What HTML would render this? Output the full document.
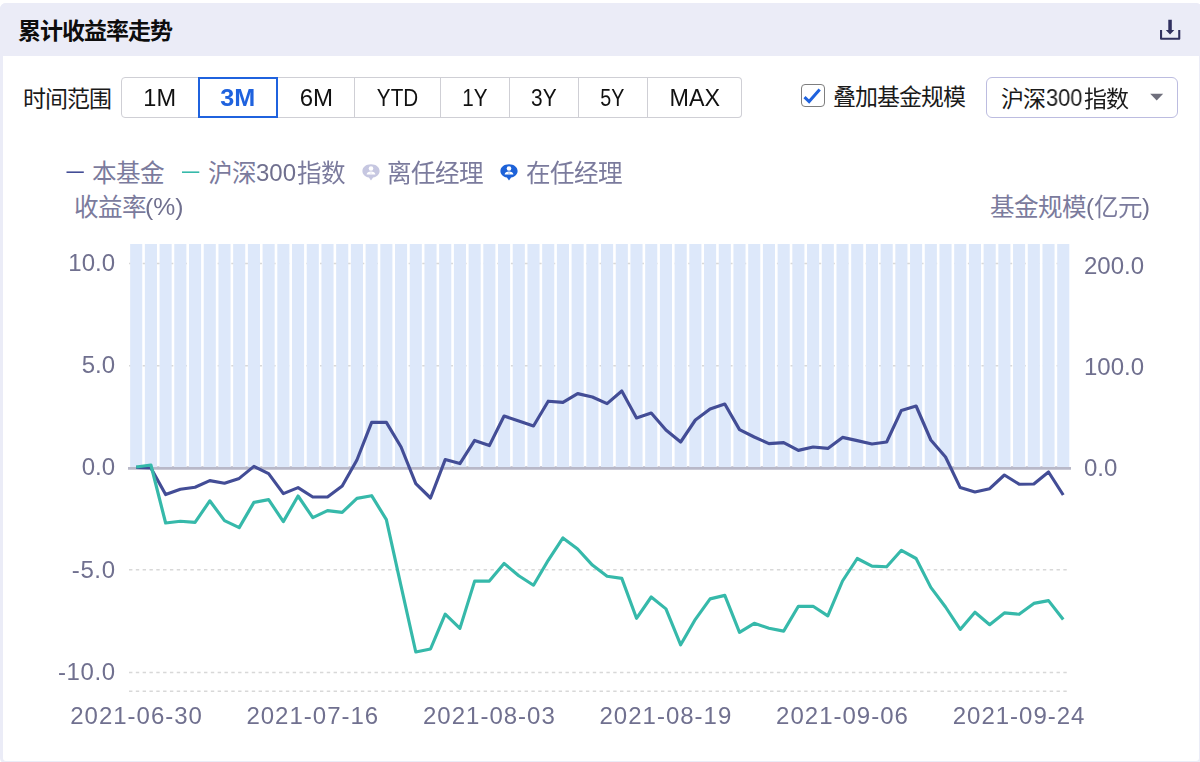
<!DOCTYPE html>
<html lang="zh-CN"><head><meta charset="utf-8"><title>Cumulative return trend</title>
<style>
html,body{margin:0;padding:0;background:#fff}
body{width:1200px;height:762px;overflow:hidden;position:relative;font-family:"Liberation Sans",sans-serif;color:#111}
.abs,.cj,.chart{position:absolute;display:block;overflow:visible}
.chart{left:0;top:0}
.card{position:absolute;left:-0.5px;top:3.2px;width:1202.5px;height:760.5px;box-sizing:border-box;border:3px solid #ebecf7;border-radius:6px;background:#fff}
.hd{position:absolute;left:-0.5px;top:3.2px;width:1202.5px;height:52.8px;background:#ebecf7;border-radius:6px 6px 0 0}
.tabs{position:absolute;left:121.300px;top:76.500px;height:41px;display:flex}
.tab{box-sizing:border-box;height:41px;border:1.500px solid #cfcfd5;border-left-width:0;font-size:24px;line-height:40.5px;text-align:center;color:#111;background:#fff}
.tab:first-child{border-left-width:1.500px;border-radius:4px 0 0 4px}
.tab:last-child{border-radius:0 4px 4px 0}
.tab.on{border:2px solid #1f62de;line-height:38.3px;margin-left:-1.500px;color:#1f62de;font-weight:bold;position:relative;z-index:1}
.chk{position:absolute;left:801.400px;top:83.500px;width:23.800px;height:23.800px;box-sizing:border-box;border:1.800px solid #7e7e7e;border-radius:4px;background:#fff}
.sel{position:absolute;left:986px;top:76.500px;width:192.400px;height:41px;box-sizing:border-box;border:1.500px solid #bcbce0;border-radius:6px;background:#fff}
.lat{position:absolute;white-space:nowrap;line-height:1;will-change:transform;transform-origin:0 50%}
.chart,.tabs{will-change:transform}
.tab span{display:inline-block;transform-origin:50% 50%}
.cj text{font-family:"Liberation Sans","Noto Sans CJK SC",sans-serif;font-size:1000px}
</style></head><body>
<div class="card"></div>
<header class="hd"></header>
<svg class="cj" role="img" aria-label="累计收益率走势" style="left:15.7px;top:15.25px" width="159" height="31.6" viewBox="-86.96 -1036.96 6913.04 1373.91" fill="#0d0d0d"><text x="0" y="0" font-weight="bold" letter-spacing="-43.48">累计收益率走势</text></svg>
<svg class="abs" style="left:1158px;top:18px" width="24" height="24" viewBox="1158 18 24 24" role="img" aria-label="download"><path fill="none" stroke="#30305f" stroke-width="2.100" stroke-linejoin="round" d="M1161.050 29.950V38.800H1179.250V29.950"/><path fill="#30305f" d="M1168.300 19.800H1171.800V29.900H1174.300L1170.050 34.400L1165.800 29.900H1168.300Z"/></svg>
<svg class="cj" role="img" aria-label="时间范围" style="left:20.7px;top:83.15px" width="93" height="31.6" viewBox="-86.96 -1036.96 4043.48 1373.91" fill="#1a1a1a"><text x="0" y="0" letter-spacing="-43.48">时间范围</text></svg>
<nav class="tabs">
<div class="tab" style="width:78.5px"><span style="transform:translateX(-1px) scaleX(0.98)">1M</span></div>
<div class="tab on" style="width:80px"><span style="transform:translateX(0px) scaleX(1.05)">3M</span></div>
<div class="tab" style="width:77px"><span style="transform:translateX(0.3px) scaleX(1)">6M</span></div>
<div class="tab" style="width:86px"><span style="transform:translateX(-0.5px) scaleX(0.86)">YTD</span></div>
<div class="tab" style="width:69px"><span style="transform:translateX(0.3px) scaleX(0.86)">1Y</span></div>
<div class="tab" style="width:69px"><span style="transform:translateX(0.2px) scaleX(0.87)">3Y</span></div>
<div class="tab" style="width:69px"><span style="transform:translateX(-0.4px) scaleX(0.82)">5Y</span></div>
<div class="tab" style="width:94px"><span style="transform:translateX(0.8px) scaleX(0.97)">MAX</span></div>
</nav>
<div class="chk"><svg class="abs" style="left:0;top:0" width="20.200" height="20.200" viewBox="803.200 85.300 20.200 20.200" fill="none" stroke="#1f62de" stroke-width="3" role="img" aria-label="checked"><path d="M805.700 97.500L810.300 101.900L820.900 89.700"/></svg></div>
<svg class="cj" role="img" aria-label="叠加基金规模" style="left:830.8px;top:80.95px" width="137" height="31.6" viewBox="-86.96 -1036.96 5956.52 1373.91" fill="#1a1a1a"><text x="0" y="0" letter-spacing="-43.48">叠加基金规模</text></svg>
<div class="sel"></div>
<svg class="cj" role="img" aria-label="沪深" style="left:999px;top:83.15px" width="49" height="31.6" viewBox="-86.96 -1036.96 2130.43 1373.91" fill="#1a1a1a"><text x="0" y="0" letter-spacing="-43.48">沪深</text></svg>
<span class="lat" style="left:1046px;top:86.53px;font-size:23px;color:#1a1a1a;transform:scaleX(0.95)">300</span>
<svg class="cj" role="img" aria-label="指数" style="left:1082.3px;top:83.15px" width="49" height="31.6" viewBox="-86.96 -1036.96 2130.43 1373.91" fill="#1a1a1a"><text x="0" y="0" letter-spacing="-43.48">指数</text></svg>
<svg class="abs" style="left:1149px;top:92px" width="16" height="10" viewBox="1149 92 16 10" role="img" aria-label="open"><path fill="#6f6f7c" d="M1150.200 93.700H1163.200L1156.700 100.600Z"/></svg>
<svg class="cj" role="img" aria-label="本基金" style="left:90px;top:156.73px" width="76.6" height="33.52" viewBox="-81.3 -1031.3 3113.82 1362.6" fill="#7b7b9d"><text x="0" y="0" letter-spacing="-24.39">本基金</text></svg>
<svg class="cj" role="img" aria-label="沪深" style="left:205.5px;top:156.73px" width="52.6" height="33.52" viewBox="-81.3 -1031.3 2138.21 1362.6" fill="#7b7b9d"><text x="0" y="0" letter-spacing="-24.39">沪深</text></svg>
<span class="lat" style="left:256px;top:160.78px;font-size:24px;color:#70708f">300</span>
<svg class="cj" role="img" aria-label="指数" style="left:294.5px;top:156.73px" width="52.6" height="33.52" viewBox="-81.3 -1031.3 2138.21 1362.6" fill="#7b7b9d"><text x="0" y="0" letter-spacing="-24.39">指数</text></svg>
<svg class="abs" style="left:360.5px;top:160.500px" width="20" height="22" viewBox="-10 -10 20 22" role="img" aria-label="manager"><path fill="#c6c7e1" d="M0-6.800C4.900-6.800 8.600-3.900 8.600 0C8.600 3.300 5.900 5.900 2.100 6.600L0 9.600L-2.100 6.600C-5.900 5.900-8.600 3.300-8.600 0C-8.600-3.900-4.900-6.800 0-6.800Z"/><circle cx="0" cy="-2.500" r="2.300" fill="#fff"/><path fill="#fff" d="M-4.400 3.500C-4.200 1.400-2.500.500 0 .500C2.500.500 4.200 1.400 4.400 3.500Z"/><circle cx="0" cy="2" r=".5" fill="#c6c7e1"/></svg>
<svg class="cj" role="img" aria-label="离任经理" style="left:385px;top:156.73px" width="100.6" height="33.52" viewBox="-81.3 -1031.3 4089.43 1362.6" fill="#7b7b9d"><text x="0" y="0" letter-spacing="-24.39">离任经理</text></svg>
<svg class="abs" style="left:499.4px;top:160.500px" width="20" height="22" viewBox="-10 -10 20 22" role="img" aria-label="manager"><path fill="#1d62d8" d="M0-6.800C4.900-6.800 8.600-3.900 8.600 0C8.600 3.300 5.900 5.900 2.100 6.600L0 9.600L-2.100 6.600C-5.900 5.900-8.600 3.300-8.600 0C-8.600-3.900-4.900-6.800 0-6.800Z"/><circle cx="0" cy="-2.500" r="2.300" fill="#fff"/><path fill="#fff" d="M-4.400 3.500C-4.200 1.400-2.500.500 0 .500C2.500.500 4.200 1.400 4.400 3.500Z"/><circle cx="0" cy="2" r=".5" fill="#1d62d8"/></svg>
<svg class="cj" role="img" aria-label="在任经理" style="left:524px;top:156.73px" width="100.6" height="33.52" viewBox="-81.3 -1031.3 4089.43 1362.6" fill="#7b7b9d"><text x="0" y="0" letter-spacing="-24.39">在任经理</text></svg>
<svg class="cj" role="img" aria-label="收益率" style="left:72px;top:191.13px" width="76.6" height="33.52" viewBox="-81.3 -1031.3 3113.82 1362.6" fill="#7b7b9d"><text x="0" y="0" letter-spacing="-24.39">收益率</text></svg>
<span class="lat" style="left:145px;top:195.18px;font-size:24px;color:#70708f;transform:scaleX(1.03)">(%)</span>
<svg class="cj" role="img" aria-label="基金规模" style="left:987.5px;top:191.13px" width="100.6" height="33.52" viewBox="-81.3 -1031.3 4089.43 1362.6" fill="#7b7b9d"><text x="0" y="0" letter-spacing="-24.39">基金规模</text></svg>
<span class="lat" style="left:1086px;top:195.18px;font-size:24px;color:#70708f">(</span>
<svg class="cj" role="img" aria-label="亿元" style="left:1091.5px;top:191.13px" width="52.6" height="33.52" viewBox="-81.3 -1031.3 2138.21 1362.6" fill="#7b7b9d"><text x="0" y="0" letter-spacing="-24.39">亿元</text></svg>
<span class="lat" style="left:1142px;top:195.18px;font-size:24px;color:#70708f">)</span>
<svg class="chart" width="1200" height="762" viewBox="0 0 1200 762" role="img" aria-label="chart">
<line x1="129" x2="1069.5" y1="263.5" y2="263.5" stroke="#d8d8d8" stroke-width="1.5" stroke-dasharray="3.4 3.42"/>
<line x1="129" x2="1069.5" y1="365.8" y2="365.8" stroke="#d8d8d8" stroke-width="1.5" stroke-dasharray="3.4 3.42"/>
<line x1="129" x2="1069.5" y1="569.8" y2="569.8" stroke="#d8d8d8" stroke-width="1.5" stroke-dasharray="3.4 3.42"/>
<line x1="129" x2="1069.5" y1="672.5" y2="672.5" stroke="#d8d8d8" stroke-width="1.5" stroke-dasharray="3.4 3.42"/>
<line x1="129" x2="1069.5" y1="691.2" y2="691.2" stroke="#d8d8d8" stroke-width="1.5" stroke-dasharray="3.4 3.42"/>
<g fill="#dde8fa"><rect x="130.15" y="244" width="12.1" height="224"/><rect x="144.86" y="244" width="12.1" height="224"/><rect x="159.58" y="244" width="12.1" height="224"/><rect x="174.29" y="244" width="12.1" height="224"/><rect x="189.01" y="244" width="12.1" height="224"/><rect x="203.72" y="244" width="12.1" height="224"/><rect x="218.44" y="244" width="12.1" height="224"/><rect x="233.15" y="244" width="12.1" height="224"/><rect x="247.87" y="244" width="12.1" height="224"/><rect x="262.58" y="244" width="12.1" height="224"/><rect x="277.3" y="244" width="12.1" height="224"/><rect x="292.01" y="244" width="12.1" height="224"/><rect x="306.73" y="244" width="12.1" height="224"/><rect x="321.44" y="244" width="12.1" height="224"/><rect x="336.16" y="244" width="12.1" height="224"/><rect x="350.87" y="244" width="12.1" height="224"/><rect x="365.59" y="244" width="12.1" height="224"/><rect x="380.31" y="244" width="12.1" height="224"/><rect x="395.02" y="244" width="12.1" height="224"/><rect x="409.73" y="244" width="12.1" height="224"/><rect x="424.45" y="244" width="12.1" height="224"/><rect x="439.16" y="244" width="12.1" height="224"/><rect x="453.88" y="244" width="12.1" height="224"/><rect x="468.59" y="244" width="12.1" height="224"/><rect x="483.31" y="244" width="12.1" height="224"/><rect x="498.02" y="244" width="12.1" height="224"/><rect x="512.74" y="244" width="12.1" height="224"/><rect x="527.46" y="244" width="12.1" height="224"/><rect x="542.17" y="244" width="12.1" height="224"/><rect x="556.88" y="244" width="12.1" height="224"/><rect x="571.6" y="244" width="12.1" height="224"/><rect x="586.32" y="244" width="12.1" height="224"/><rect x="601.03" y="244" width="12.1" height="224"/><rect x="615.75" y="244" width="12.1" height="224"/><rect x="630.46" y="244" width="12.1" height="224"/><rect x="645.17" y="244" width="12.1" height="224"/><rect x="659.89" y="244" width="12.1" height="224"/><rect x="674.61" y="244" width="12.1" height="224"/><rect x="689.32" y="244" width="12.1" height="224"/><rect x="704.04" y="244" width="12.1" height="224"/><rect x="718.75" y="244" width="12.1" height="224"/><rect x="733.46" y="244" width="12.1" height="224"/><rect x="748.18" y="244" width="12.1" height="224"/><rect x="762.89" y="244" width="12.1" height="224"/><rect x="777.61" y="244" width="12.1" height="224"/><rect x="792.33" y="244" width="12.1" height="224"/><rect x="807.04" y="244" width="12.1" height="224"/><rect x="821.76" y="244" width="12.1" height="224"/><rect x="836.47" y="244" width="12.1" height="224"/><rect x="851.18" y="244" width="12.1" height="224"/><rect x="865.9" y="244" width="12.1" height="224"/><rect x="880.62" y="244" width="12.1" height="224"/><rect x="895.33" y="244" width="12.1" height="224"/><rect x="910.05" y="244" width="12.1" height="224"/><rect x="924.76" y="244" width="12.1" height="224"/><rect x="939.48" y="244" width="12.1" height="224"/><rect x="954.19" y="244" width="12.1" height="224"/><rect x="968.9" y="244" width="12.1" height="224"/><rect x="983.62" y="244" width="12.1" height="224"/><rect x="998.34" y="244" width="12.1" height="224"/><rect x="1013.05" y="244" width="12.1" height="224"/><rect x="1027.77" y="244" width="12.1" height="224"/><rect x="1042.48" y="244" width="12.1" height="224"/><rect x="1057.19" y="244" width="12.1" height="224"/></g>
<line x1="128" x2="1071" y1="468.35" y2="468.35" stroke="#b8b8c8" stroke-width="2.7"/>
<line x1="142.46" x2="1060" y1="466.500" y2="466.500" stroke="#cdcdd9" stroke-width="1.200" stroke-dasharray="2.200 12.52"/>
<polyline fill="none" stroke="#434d96" stroke-width="3.15" stroke-linejoin="round" stroke-linecap="butt" points="136.2,467.4 150.91,468 165.63,494.6 180.34,489.2 195.06,487.2 209.77,480.6 224.49,483.2 239.2,478.4 253.92,466.4 268.63,473.6 283.35,493.6 298.06,487.6 312.78,497 327.5,497 342.21,486 356.92,460 371.64,422.4 386.36,422.4 401.07,447 415.78,483.6 430.5,498 445.21,459.6 459.93,463.6 474.64,440.4 489.36,445.6 504.07,416 518.79,421 533.5,426 548.22,401.2 562.93,402.4 577.65,393.6 592.37,397 607.08,403.6 621.79,391 636.51,418 651.22,413 665.94,430 680.65,442 695.37,420 710.09,409 724.8,404 739.51,429.6 754.23,437 768.94,443.6 783.66,442.6 798.38,450.4 813.09,447 827.81,448.4 842.52,437.4 857.23,440.6 871.95,444 886.66,442 901.38,410.4 916.1,406 930.81,440 945.53,457 960.24,487.6 974.95,492 989.67,488.7 1004.38,475 1019.1,484.2 1033.82,484 1048.53,472 1063.24,495"/>
<polyline fill="none" stroke="#36b9aa" stroke-width="3.15" stroke-linejoin="round" stroke-linecap="butt" points="136.2,467 150.91,465 165.63,523 180.34,521.2 195.06,522.4 209.77,500.8 224.49,520.6 239.2,527.6 253.92,502.4 268.63,499.6 283.35,521.6 298.06,496 312.78,517.6 327.5,510.6 342.21,512.4 356.92,498.4 371.64,495.7 386.36,519.6 401.07,586.1 415.78,652 430.5,649 445.21,614.2 459.93,628.4 474.64,581.1 489.36,581.1 504.07,563.4 518.79,575.7 533.5,585.2 548.22,560.3 562.93,537.9 577.65,549 592.37,565.1 607.08,576.3 621.79,578.4 636.51,618.3 651.22,597 665.94,608.9 680.65,644.8 695.37,619.3 710.09,598.9 724.8,595.4 739.51,632.3 754.23,623.3 768.94,628.2 783.66,631.1 798.38,606.3 813.09,606.3 827.81,615.9 842.52,581 857.23,558.5 871.95,566.1 886.66,566.8 901.38,550.3 916.1,558.5 930.81,587.4 945.53,607 960.24,629.4 974.95,612.2 989.67,624.7 1004.38,612.9 1019.1,614.3 1033.82,603.4 1048.53,600.6 1063.24,619.5"/>
<g font-family="Liberation Sans, sans-serif" font-size="24" fill="#70708f">
<text x="115" y="270.6" text-anchor="end">10.0</text>
<text x="115" y="373.1" text-anchor="end">5.0</text>
<text x="115" y="475.1" text-anchor="end">0.0</text>
<text x="115.6" y="577.6" text-anchor="end" letter-spacing="0.6">-5.0</text>
<text x="115.6" y="680.1" text-anchor="end" letter-spacing="0.6">-10.0</text>
<text x="1084" y="274.2">200.0</text>
<text x="1084" y="375">100.0</text>
<text x="1084" y="475.8">0.0</text>
<text x="136.6" y="724" text-anchor="middle" letter-spacing="1">2021-06-30</text>
<text x="312.8" y="724" text-anchor="middle" letter-spacing="1">2021-07-16</text>
<text x="489.4" y="724" text-anchor="middle" letter-spacing="1">2021-08-03</text>
<text x="665.9" y="724" text-anchor="middle" letter-spacing="1">2021-08-19</text>
<text x="842.5" y="724" text-anchor="middle" letter-spacing="1">2021-09-06</text>
<text x="1019.1" y="724" text-anchor="middle" letter-spacing="1">2021-09-24</text>
</g>
<line x1="66.5" x2="83.8" y1="172.200" y2="172.200" stroke="#434d96" stroke-width="1.600"/>
<line x1="182" x2="199.3" y1="172.200" y2="172.200" stroke="#36b9aa" stroke-width="1.600"/>
</svg>
</body></html>
